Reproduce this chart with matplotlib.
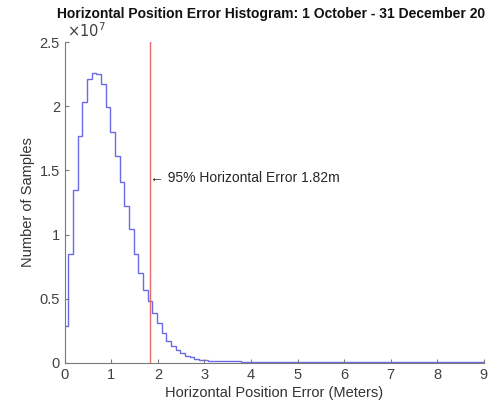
import numpy as np
import matplotlib
matplotlib.use('Agg')
import matplotlib.pyplot as plt

plt.rcParams['font.family'] = ['Liberation Sans', 'DejaVu Sans']

TITLE = "Horizontal Position Error Histogram: 1 October - 31 December 20"
XLABEL = "Horizontal Position Error (Meters)"
YLABEL = "Number of Samples"

# bin edges (meters): first partial bin, then 0.1 m bins
first_edge = 0.08
bin_width = 0.1
# counts per bin, in millions of samples
counts_m = [
    2.9, 8.5, 13.5, 17.7, 20.3, 22.1, 22.6, 22.5, 21.7, 19.9,
    18.0, 16.1, 14.1, 12.2, 10.4, 8.5, 7.0, 5.7, 4.8, 3.9,
    3.1, 2.36, 1.74, 1.3, 0.98, 0.75, 0.57, 0.43, 0.33, 0.27,
    0.22, 0.19, 0.17, 0.15, 0.14, 0.13, 0.12, 0.12, 0.11, 0.11,
    0.11, 0.10, 0.10, 0.10, 0.10, 0.10, 0.10, 0.10, 0.10, 0.10,
    0.10, 0.10, 0.10, 0.10, 0.10, 0.10, 0.10, 0.10, 0.10, 0.10,
    0.10, 0.10, 0.10, 0.10, 0.10, 0.10, 0.10, 0.10, 0.10, 0.10,
    0.10, 0.10, 0.10, 0.10, 0.10, 0.10, 0.10, 0.10, 0.10, 0.10,
    0.10, 0.10, 0.10, 0.10, 0.10, 0.10, 0.10, 0.10, 0.10, 0.10,
]
err95 = 1.82
annot_y = 1.44  # x 1e7

xticks = [0, 1, 2, 3, 4, 5, 6, 7, 8, 9]
yticks = [0, 0.5, 1, 1.5, 2, 2.5]
ytick_labels = ["0", "0.5", "1", "1.5", "2", "2.5"]

edges = np.concatenate([[0.0], first_edge + bin_width * np.arange(len(counts_m))])
edges[-1] = 9.0
vals = np.array(counts_m) / 10.0  # in units of 1e7

fig = plt.figure(figsize=(5.02, 4.04), dpi=100)
ax = fig.add_axes([0.129, 0.1015, 0.835, 0.7945])

ax.stairs(vals, edges, color='#6a6ae6', linewidth=1.0, baseline=None)
ax.plot([err95, err95], [0, 2.5], color='#e86a6a', linewidth=1.0)
ax.text(err95 + 0.02, annot_y, "\u2190 95% Horizontal Error 1.82m",
        fontsize=10, color='#262626', va='center', ha='left')

ax.set_xlim(0, 9)
ax.set_ylim(0, 2.5)
ax.set_xticks(xticks)
ax.set_yticks(yticks)
ax.set_yticklabels(ytick_labels)
for s in ['top', 'right']:
    ax.spines[s].set_visible(False)
for s in ['left', 'bottom']:
    ax.spines[s].set_color('#7a7a7a')
    ax.spines[s].set_linewidth(0.8)
ax.tick_params(direction='in', length=3, colors='#7a7a7a', labelcolor='#404040',
               labelsize=10.5)

ax.text(0.005, 1.005, r"$\times10^{7}$", transform=ax.transAxes, fontsize=10.5,
        color='#404040', ha='left', va='bottom')

ax.set_xlabel(XLABEL, fontsize=10.5, color='#333333', labelpad=3)
ax.set_ylabel(YLABEL, fontsize=10.5, color='#333333', labelpad=3)
fig.text(0.54, 0.965, TITLE, fontsize=10, fontweight='bold', ha='center',
         va='center', color='#111111')

fig.savefig('out.png', dpi=100)
plt.close(fig)
